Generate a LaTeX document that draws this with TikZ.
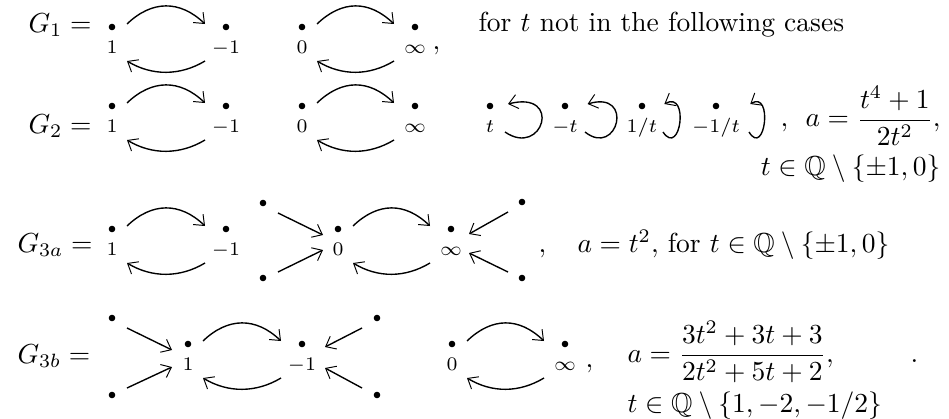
\documentclass[tikz,border=0pt]{standalone}
\usepackage{amsmath,amssymb}
\usetikzlibrary{arrows.meta,calc}
\tikzset{
  vdot/.style={circle,fill,inner sep=0pt,minimum size=2.4pt},
  vlab/.style={anchor=base,inner sep=0pt,font=\scriptsize},
  txt/.style={anchor=base west,inner sep=0pt},
  txte/.style={anchor=base east,inner sep=0pt},
  arr/.style={line width=0.5pt,-{Straight Barb[length=3.2pt,width=5.2pt,line width=0.35pt]}},
}
\newcommand\myvtx[4]{\node[vdot] (#1) at (#2,#3) {};\node[vlab] (#1l) at (#2,#3+26.5) {$#4$};}
\newcommand\myarcs[2]{%
  \draw[arr] ($(#1)+(15,-3)$) .. controls +(25,-24) and +(-25,-24) .. ($(#2)+(-21,-3)$);
  \draw[arr] ($(#2)+(-21,34)$) .. controls +(-25,15) and +(25,15) .. ($(#1)+(15,34)$);}
\newcommand\myloop[3]{%
  \draw[arr] ($(#1)+(#2,26)$) .. controls +(38*#3,26) and +(55*#3,-14) .. ($(#1)+(#2+3*#3,-2)$);}
\begin{document}
\begin{tikzpicture}[x=0.3636pt,y=-0.3636pt]
\useasboundingbox (0,0) rectangle (949,419);
% Row 1
\node[txt] (g1) at (28,32) {$G_1 =$};
\myvtx{a1}{112}{27}{1}
\myvtx{b1}{226}{27}{-1}
\myvtx{c1}{302}{27}{0}
\myvtx{d1}{415}{27}{\infty}
\myarcs{a1}{b1}
\myarcs{c1}{d1}
\node[txt] (cm1) at (432,49) {$,$};
\node[txt] (for1) at (478,31) {for $t$ not in the following cases};
% Row 2
\node[txt] (g2) at (28,133) {$G_2 =$};
\myvtx{a2}{112}{106}{1}
\myvtx{b2}{226}{106}{-1}
\myvtx{c2}{302}{106}{0}
\myvtx{d2}{415}{106}{\infty}
\myarcs{a2}{b2}
\myarcs{c2}{d2}
\myvtx{e2}{490}{106}{t}
\myvtx{f2}{565}{106}{-t}
\myvtx{g2v}{642}{106}{1/t}
\myvtx{h2}{716}{106}{-1/t}
\myloop{e2}{15}{1}
\myloop{f2}{20}{0.86}
\myloop{g2v}{21}{0.46}
\myloop{h2}{33}{0.42}
\node[txt] (cm2) at (780,126) {$,$};
\node[txt] (a2f) at (805,127) {$a = \dfrac{t^4+1}{2t^2},$};
\node[txte] (t2) at (941,175) {$t \in \mathbb{Q}\setminus\{\pm 1, 0\}$};
% Row 3
\node[txt] (g3) at (17,252) {$G_{3a} =$};
\myvtx{a3}{112}{229}{1}
\myvtx{b3}{226}{229}{-1}
\myvtx{c3}{338}{229}{0}
\myvtx{d3}{451}{229}{\infty}
\myarcs{a3}{b3}
\myarcs{c3}{d3}
\node[vdot] (p3) at (263,203) {};
\node[vdot] (q3) at (263,278) {};
\node[vdot] (r3) at (522,202) {};
\node[vdot] (s3) at (522,278) {};
\draw[arr] ($(p3)+(15,10)$) -- ($(c3)+(-15,6)$);
\draw[arr] ($(q3)+(15,-6)$) -- ($(c3)+(-15,21)$);
\draw[arr] ($(r3)+(-14,10)$) -- ($(d3)+(18,5)$);
\draw[arr] ($(s3)+(-14,-6)$) -- ($(d3)+(18,24)$);
\node[txt] (cm3) at (538,252) {$,$};
\node[txt] (a3t) at (577,252) {$a = t^2,$ for $t \in \mathbb{Q}\setminus\{\pm 1, 0\}$};
% Row 4
\node[txt] (g4) at (17,363) {$G_{3b} =$};
\myvtx{a4}{188}{344}{1}
\myvtx{b4}{302}{344}{-1}
\myvtx{c4}{452}{344}{0}
\myvtx{d4}{565}{344}{\infty}
\myarcs{a4}{b4}
\myarcs{c4}{d4}
\node[vdot] (p4) at (112,318) {};
\node[vdot] (q4) at (112,395) {};
\node[vdot] (r4) at (377,318) {};
\node[vdot] (s4) at (377,395) {};
\draw[arr] ($(p4)+(15,10)$) -- ($(a4)+(-16,6)$);
\draw[arr] ($(q4)+(15,-7)$) -- ($(a4)+(-16,23)$);
\draw[arr] ($(r4)+(-15,10)$) -- ($(b4)+(23,3)$);
\draw[arr] ($(s4)+(-15,-7)$) -- ($(b4)+(23,24)$);
\node[txt] (cm4) at (585,367) {$,$};
\node[txt] (a4f) at (627,362) {$a = \dfrac{3t^2+3t+3}{2t^2+5t+2},$};
\node[txt] (t4) at (627,412) {$t \in \mathbb{Q}\setminus\{1,-2,-1/2\}$};
\node[txt] (pd) at (910,362) {.};
\end{tikzpicture}
\end{document}
